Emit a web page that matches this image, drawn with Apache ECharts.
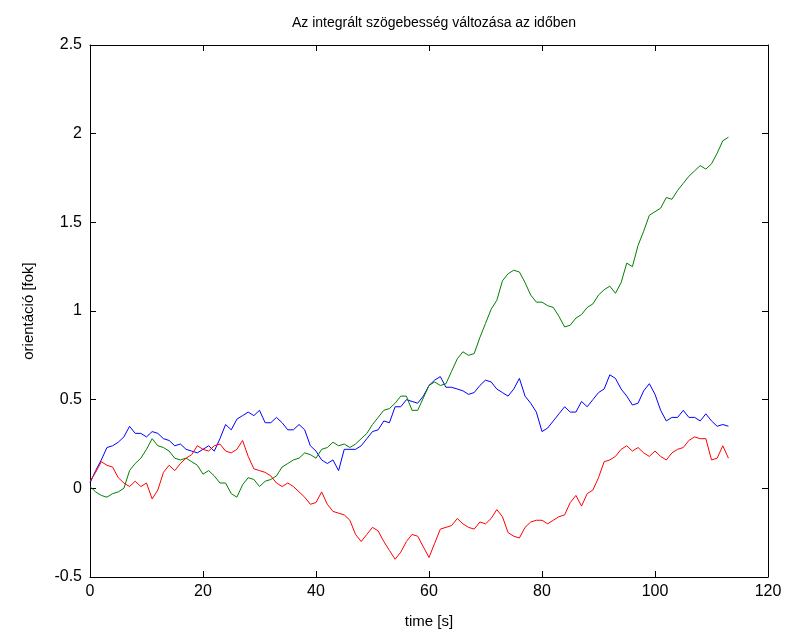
<!DOCTYPE html>
<html>
<head>
<meta charset="utf-8">
<script src="https://cdn.jsdelivr.net/npm/echarts@6/dist/echarts.min.js"></script>
<style>
  html, body { margin: 0; padding: 0; background: #fff; }
  #chart { width: 788px; height: 634px; }
</style>
</head>
<body>
<div id="chart"></div>
<script>
// Sampled once per second, t = 0 .. 113 s
const blueVals = [0.03, 0.10, 0.16, 0.23, 0.24, 0.26, 0.29, 0.35, 0.31, 0.31,
  0.29, 0.32, 0.31, 0.28, 0.27, 0.24, 0.25, 0.22, 0.21, 0.20,
  0.22, 0.24, 0.21, 0.28, 0.36, 0.33, 0.39, 0.41, 0.43, 0.41,
  0.44, 0.37, 0.37, 0.40, 0.37, 0.33, 0.33, 0.36, 0.33, 0.24,
  0.21, 0.16, 0.14, 0.16, 0.10, 0.22, 0.22, 0.22, 0.24, 0.28,
  0.32, 0.33, 0.38, 0.37, 0.46, 0.46, 0.50, 0.49, 0.48, 0.52,
  0.58, 0.61, 0.63, 0.57, 0.57, 0.56, 0.55, 0.53, 0.54, 0.58,
  0.61, 0.60, 0.56, 0.54, 0.52, 0.56, 0.62, 0.52, 0.48, 0.43,
  0.32, 0.34, 0.38, 0.42, 0.46, 0.43, 0.43, 0.49, 0.46, 0.50,
  0.54, 0.56, 0.64, 0.62, 0.56, 0.52, 0.47, 0.48, 0.55, 0.59,
  0.53, 0.44, 0.38, 0.40, 0.40, 0.44, 0.40, 0.40, 0.38, 0.42,
  0.38, 0.35, 0.36, 0.35];

const greenVals = [0.01, -0.02, -0.04, -0.05, -0.03, -0.02, 0.00, 0.10, 0.14, 0.17,
  0.22, 0.28, 0.24, 0.23, 0.21, 0.17, 0.16, 0.17, 0.15, 0.13,
  0.08, 0.10, 0.07, 0.03, 0.03, -0.03, -0.05, 0.02, 0.06, 0.05,
  0.01, 0.04, 0.05, 0.07, 0.12, 0.14, 0.16, 0.17, 0.20, 0.19,
  0.17, 0.22, 0.23, 0.26, 0.24, 0.25, 0.23, 0.25, 0.28, 0.31,
  0.36, 0.40, 0.44, 0.45, 0.48, 0.52, 0.52, 0.44, 0.44, 0.51,
  0.58, 0.60, 0.58, 0.59, 0.66, 0.73, 0.77, 0.75, 0.76, 0.85,
  0.93, 1.01, 1.06, 1.17, 1.21, 1.23, 1.22, 1.16, 1.09, 1.05,
  1.05, 1.03, 1.02, 0.97, 0.91, 0.92, 0.96, 0.98, 1.02, 1.04,
  1.09, 1.12, 1.14, 1.10, 1.16, 1.27, 1.25, 1.37, 1.45, 1.54,
  1.56, 1.58, 1.64, 1.63, 1.68, 1.72, 1.76, 1.79, 1.82, 1.80,
  1.83, 1.89, 1.96, 1.98];

const redVals = [0.04, 0.09, 0.15, 0.13, 0.12, 0.06, 0.03, 0.01, 0.04, 0.01,
  0.03, -0.06, -0.01, 0.09, 0.13, 0.10, 0.14, 0.17, 0.19, 0.24,
  0.22, 0.21, 0.24, 0.25, 0.21, 0.20, 0.22, 0.27, 0.18, 0.11,
  0.10, 0.09, 0.07, 0.03, 0.01, 0.03, 0.01, -0.02, -0.05, -0.09,
  -0.08, -0.02, -0.09, -0.13, -0.14, -0.15, -0.18, -0.26, -0.30, -0.26,
  -0.22, -0.24, -0.30, -0.35, -0.40, -0.36, -0.30, -0.26, -0.27, -0.33,
  -0.39, -0.31, -0.23, -0.22, -0.21, -0.17, -0.20, -0.22, -0.23, -0.19,
  -0.20, -0.17, -0.12, -0.16, -0.25, -0.27, -0.28, -0.22, -0.19, -0.18,
  -0.18, -0.20, -0.18, -0.16, -0.15, -0.08, -0.04, -0.10, -0.03, -0.01,
  0.06, 0.15, 0.16, 0.18, 0.22, 0.24, 0.21, 0.23, 0.20, 0.18,
  0.21, 0.18, 0.16, 0.20, 0.22, 0.23, 0.27, 0.29, 0.28, 0.28,
  0.16, 0.17, 0.24, 0.17];

const xTicks = [0, 20, 40, 60, 80, 100, 120];
const yTicks = [-0.5, 0, 0.5, 1, 1.5, 2, 2.5];

const font = 'Liberation Sans, Arial, sans-serif';

function toPairs(vals) {
  return vals.map(function (v, i) { return [i, v]; });
}

var chartDom = document.getElementById('chart');
var myChart = echarts.init(chartDom);
var option;

var axisLine = { show: true, onZero: false, lineStyle: { color: '#000', width: 1 } };
var axisTick = { show: true, inside: true, length: 6, lineStyle: { color: '#000' } };

option = {
  animation: false,
  backgroundColor: '#fff',
  title: {
    text: 'Az integrált szögebesség változása az időben',
    left: 429,
    top: 11,
    textAlign: 'center',
    textStyle: { fontFamily: font, fontSize: 14, fontWeight: 'normal', color: '#000' }
  },
  grid: { left: 90, right: 20, top: 45, bottom: 56 },
  xAxis: [
    {
      type: 'value',
      min: xTicks[0],
      max: xTicks[xTicks.length - 1],
      interval: 20,
      position: 'bottom',
      name: 'time [s]',
      nameLocation: 'middle',
      nameGap: 37,
      nameTextStyle: { fontFamily: font, fontSize: 15, color: '#000' },
      axisLine: axisLine,
      axisTick: axisTick,
      axisLabel: { fontFamily: font, fontSize: 16, color: '#000', margin: 7 },
      splitLine: { show: false }
    },
    {
      type: 'value',
      min: xTicks[0],
      max: xTicks[xTicks.length - 1],
      interval: 20,
      position: 'top',
      axisLine: axisLine,
      axisTick: axisTick,
      axisLabel: { show: false },
      splitLine: { show: false }
    }
  ],
  yAxis: [
    {
      type: 'value',
      min: yTicks[0],
      max: yTicks[yTicks.length - 1],
      interval: 0.5,
      position: 'left',
      name: 'orientáció [fok]',
      nameLocation: 'middle',
      nameGap: 54,
      nameTextStyle: { fontFamily: font, fontSize: 15, color: '#000' },
      axisLine: axisLine,
      axisTick: axisTick,
      axisLabel: { fontFamily: font, fontSize: 16, color: '#000', margin: 8 },
      splitLine: { show: false }
    },
    {
      type: 'value',
      min: yTicks[0],
      max: yTicks[yTicks.length - 1],
      interval: 0.5,
      position: 'right',
      axisLine: axisLine,
      axisTick: axisTick,
      axisLabel: { show: false },
      splitLine: { show: false }
    }
  ],
  series: [
    {
      type: 'line', showSymbol: false, data: toPairs(blueVals),
      lineStyle: { color: '#0000ff', width: 1 }, itemStyle: { color: '#0000ff' }
    },
    {
      type: 'line', showSymbol: false, data: toPairs(greenVals),
      lineStyle: { color: '#008000', width: 1 }, itemStyle: { color: '#008000' }
    },
    {
      type: 'line', showSymbol: false, data: toPairs(redVals),
      lineStyle: { color: '#ff0000', width: 1 }, itemStyle: { color: '#ff0000' }
    }
  ]
};

option && myChart.setOption(option);
</script>
</body>
</html>
